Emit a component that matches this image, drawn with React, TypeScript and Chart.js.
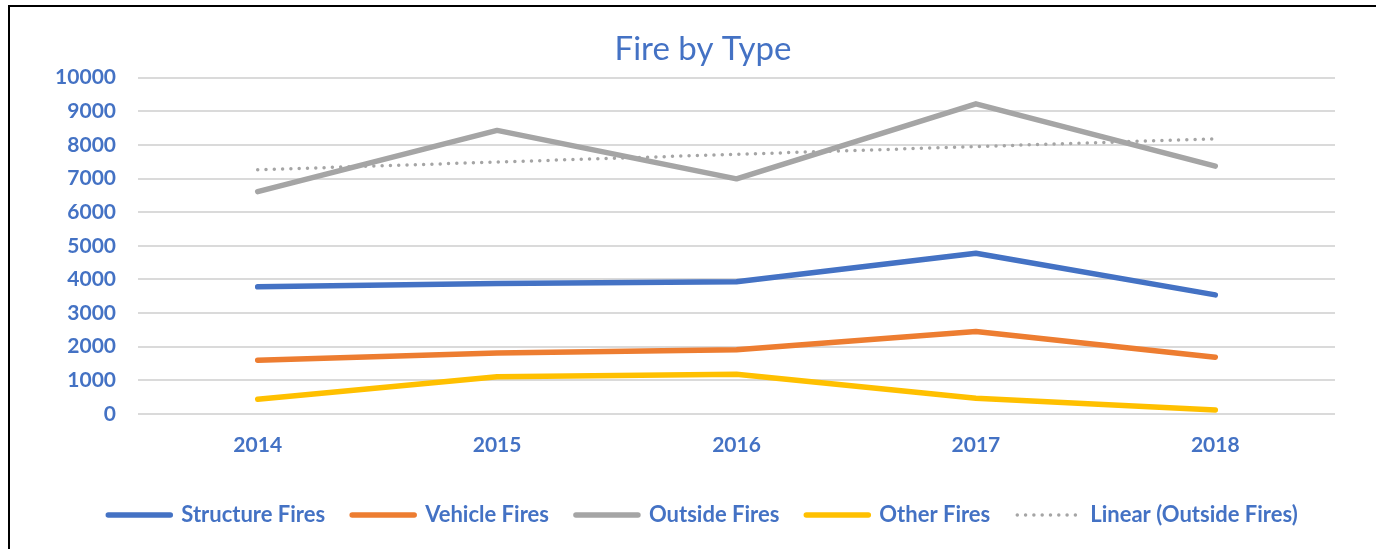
import React, { useEffect, useRef } from "react";
import { Chart, registerables } from "chart.js";

Chart.register(...registerables);

const years = ["2014", "2015", "2016", "2017", "2018"];
const structureFires = [3780, 3880, 3930, 4780, 3540];
const vehicleFires = [1600, 1810, 1910, 2450, 1690];
const outsideFires = [6610, 8430, 6990, 9220, 7370];
const otherFires = [440, 1110, 1180, 470, 120];
const linearOutside = [7260, 7490, 7720, 7950, 8180];

const BLUE = "#4472C4";
const FONT = "Lato, 'Open Sans', sans-serif";

const unclipYLabels = {
  id: "unclipYLabels",
  afterLayout(chart: any) {
    const y = chart.scales.y;
    if (y) y.left = 0;
  },
};

export default function App() {
  const ref = useRef<HTMLCanvasElement | null>(null);

  useEffect(() => {
    if (!ref.current) return;
    const line = (label: string, data: number[], color: string) => ({
      label,
      data,
      borderColor: color,
      backgroundColor: color,
      borderWidth: 5.5,
      pointRadius: 0,
      pointHoverRadius: 0,
      borderCapStyle: "round" as const,
      borderJoinStyle: "round" as const,
      tension: 0,
      fill: false,
    });
    const chart = new Chart(ref.current, {
      type: "line",
      data: {
        labels: years,
        datasets: [
          line("Structure Fires", structureFires, "#4472C4"),
          line("Vehicle Fires", vehicleFires, "#ED7D31"),
          line("Outside Fires", outsideFires, "#A5A5A5"),
          line("Other Fires", otherFires, "#FFC000"),
          {
            label: "Linear (Outside Fires)",
            data: linearOutside,
            borderColor: "#A5A5A5",
            backgroundColor: "#A5A5A5",
            borderWidth: 3.5,
            borderDash: [0, 8.3],
            borderCapStyle: "round" as const,
            pointRadius: 0,
            pointHoverRadius: 0,
            tension: 0,
            fill: false,
          },
        ],
      },
      plugins: [unclipYLabels],
      options: {
        responsive: false,
        animation: false,
        layout: { padding: { left: 61, right: 75, top: 0, bottom: 13 } },
        plugins: {
          tooltip: { enabled: false },
          title: {
            display: true,
            text: "Fire by Type",
            color: BLUE,
            font: { family: FONT, size: 33, weight: "normal" as const, lineHeight: 1.2 },
            padding: { top: 23, bottom: 8 },
          },
          legend: {
            position: "bottom",
            labels: {
              color: BLUE,
              font: { family: FONT, size: 22, weight: "bold" as const },
              usePointStyle: true,
              pointStyle: "line",
              pointStyleWidth: 62,
              padding: 27,
              generateLabels: (c: any) => {
                const items = (Chart as any).defaults.plugins.legend.labels.generateLabels(c);
                items.forEach((it: any) => {
                  const ds = c.data.datasets[it.datasetIndex];
                  it.lineWidth = ds.borderWidth;
                  it.lineDash = ds.borderDash || [];
                  it.lineCap = "round";
                  it.strokeStyle = ds.borderColor;
                  it.fillStyle = ds.borderColor;
                  it.pointStyle = "line";
                });
                return items;
              },
            },
          },
        },
        scales: {
          x: {
            offset: true,
            grid: { display: false },
            border: { display: false },
            ticks: {
              color: BLUE,
              font: { family: FONT, size: 21, weight: "bold" as const },
              padding: 11,
            },
            afterFit: (s: any) => {
              s.height = 63;
            },
          },
          y: {
            min: 0,
            max: 10000,
            grid: { color: "#DADADA", lineWidth: 2, drawTicks: false },
            border: { display: false },
            ticks: {
              stepSize: 1000,
              color: BLUE,
              font: { family: FONT, size: 21, weight: "bold" as const },
              padding: 22,
              callback: (v: any) => String(v),
            },
            afterFit: (s: any) => {
              s.width = 67;
            },
          },
        },
      },
    });
    return () => chart.destroy();
  }, []);

  return (
    <div
      style={{
        position: "fixed",
        left: 8,
        top: 5,
        width: 1368,
        height: 544,
        borderTop: "2px solid #000",
        borderLeft: "2px solid #000",
        boxSizing: "border-box",
        overflow: "hidden",
        background: "#fff",
      }}
    >
      <canvas
        ref={ref}
        width={1400}
        height={542}
        style={{ position: "absolute", left: 0, top: 0, width: 1400, height: 542 }}
      />
    </div>
  );
}
